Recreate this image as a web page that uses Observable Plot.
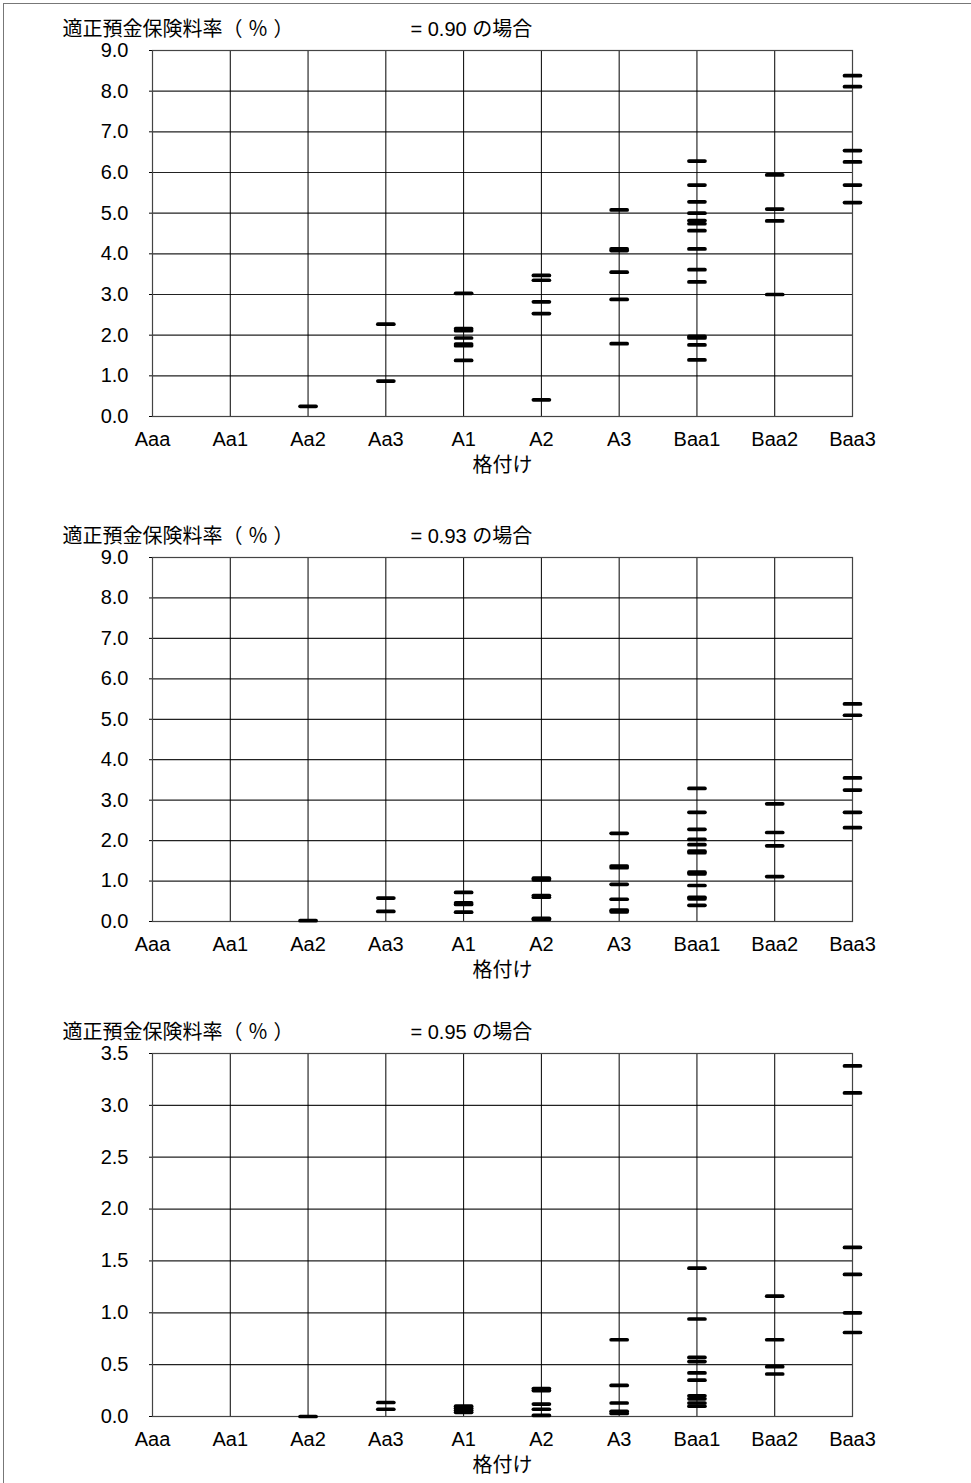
<!DOCTYPE html>
<html><head><meta charset="utf-8">
<script src="https://cdn.jsdelivr.net/npm/d3@7"></script>
<script src="https://cdn.jsdelivr.net/npm/@observablehq/plot@0.6"></script>
<style>
body{margin:0;background:#fff;overflow:hidden}
#wrap{position:relative;width:971px;height:1483px;overflow:hidden;background:#fff}
#border{position:absolute;left:3px;top:3px;width:1200px;height:1600px;border-top:1px solid #777;border-left:1px solid #777}
#wrap svg{position:absolute;left:0}
</style></head><body><div id="wrap"><div id="border"></div></div>
<script>
const ratings = ["Aaa","Aa1","Aa2","Aa3","A1","A2","A3","Baa1","Baa2","Baa3"];
const yLabel = "適正預金保険料率（ ％ ）";
const xLabel = "格付け";
const ticks9 = [0,1,2,3,4,5,6,7,8,9];
const ticks35 = [0,0.5,1,1.5,2,2.5,3,3.5];

// ρ = 0.90
const rates090 = {
  Aa2: [0.25],
  Aa3: [2.27, 0.87],
  A1: [3.03, 2.16, 2.11, 1.93, 1.78, 1.74, 1.38],
  A2: [3.47, 3.35, 2.82, 2.53, 0.41],
  A3: [5.08, 4.12, 4.08, 3.55, 2.88, 1.79],
  Baa1: [6.28, 5.69, 5.28, 5.00, 4.82, 4.74, 4.57, 4.12, 3.61, 3.31, 1.97, 1.93, 1.76, 1.39],
  Baa2: [5.94, 5.10, 4.81, 3.00],
  Baa3: [8.38, 8.11, 6.54, 6.26, 5.69, 5.26]
};
// ρ = 0.93
const rates093 = {
  Aa2: [0.02],
  Aa3: [0.58, 0.25],
  A1: [0.72, 0.46, 0.42, 0.23],
  A2: [1.07, 1.03, 0.64, 0.60, 0.08, 0.05],
  A3: [2.18, 1.37, 1.33, 0.92, 0.55, 0.28, 0.24],
  Baa1: [3.29, 2.70, 2.28, 2.03, 1.90, 1.74, 1.70, 1.22, 1.18, 0.89, 0.60, 0.56, 0.40],
  Baa2: [2.91, 2.20, 1.87, 1.11],
  Baa3: [5.38, 5.10, 3.55, 3.25, 2.70, 2.32]
};
// ρ = 0.95
const rates095 = {
  Aa2: [0.0],
  Aa3: [0.135, 0.07],
  A1: [0.10, 0.08, 0.06, 0.04],
  A2: [0.27, 0.25, 0.12, 0.07, 0.01],
  A3: [0.74, 0.30, 0.13, 0.05, 0.03],
  Baa1: [1.43, 0.94, 0.57, 0.53, 0.42, 0.35, 0.20, 0.17, 0.13, 0.10],
  Baa2: [1.16, 0.74, 0.48, 0.41],
  Baa3: [3.38, 3.12, 1.63, 1.37, 1.00, 0.81]
};

const captions = ["= 0.90 の場合", "= 0.93 の場合", "= 0.95 の場合"];

const panels = [
  {caption: captions[0], rates: rates090, yMax: 9, ticks: ticks9, top: 0, frameH: 366, mb: 74},
  {caption: captions[1], rates: rates093, yMax: 9, ticks: ticks9, top: 507, frameH: 364, mb: 74},
  {caption: captions[2], rates: rates095, yMax: 3.5, ticks: ticks35, top: 1003, frameH: 363, mb: 67}
];

const dash = {draw(ctx) { ctx.moveTo(-8, 0); ctx.lineTo(8, 0); }};
const FONT = "'Liberation Sans', Arial, 'Noto Sans CJK JP', sans-serif";

const wrap = document.getElementById("wrap");
for (const p of panels) {
  const rows = [];
  for (const r of ratings) for (const v of (p.rates[r] || [])) rows.push({rating: r, value: v});
  const mt = 50;
  const chart = Plot.plot({
    width: 971,
    height: mt + p.frameH + p.mb,
    marginTop: mt,
    marginBottom: p.mb,
    marginLeft: 152,
    marginRight: 119,
    style: {fontFamily: FONT, fontSize: "20px", color: "black", background: "transparent", overflow: "visible"},
    x: {type: "point", domain: ratings, padding: 0, round: false, label: null, tickSize: 0, tickPadding: 15},
    y: {domain: [0, p.yMax], ticks: p.ticks, tickFormat: d => d.toFixed(1), tickSize: 3, tickPadding: 21, label: null},
    marks: [
      Plot.ruleY(p.ticks, {stroke: "#222", strokeWidth: 1.2}),
      Plot.ruleX(ratings, {stroke: "#000", strokeWidth: 1}),
      Plot.frame({stroke: "#444", strokeWidth: 1.2}),
      Plot.dot(rows, {x: "rating", y: "value", symbol: dash, fill: "none", stroke: "black", strokeWidth: 3.7, strokeLinecap: "round"}),
      Plot.text([yLabel], {text: d => d, frameAnchor: "top-left", dx: -90, dy: -29, textAnchor: "start", fontSize: 20, fill: "black"}),
      Plot.text([p.caption], {text: d => d, frameAnchor: "top-left", dx: 258, dy: -29, textAnchor: "start", fontSize: 20, fill: "black"}),
      Plot.text([xLabel], {text: d => d, frameAnchor: "bottom", dy: 55, fontSize: 20, fill: "black"})
    ]
  });
  chart.style.top = p.top + "px";
  wrap.appendChild(chart);
}
</script></body></html>
